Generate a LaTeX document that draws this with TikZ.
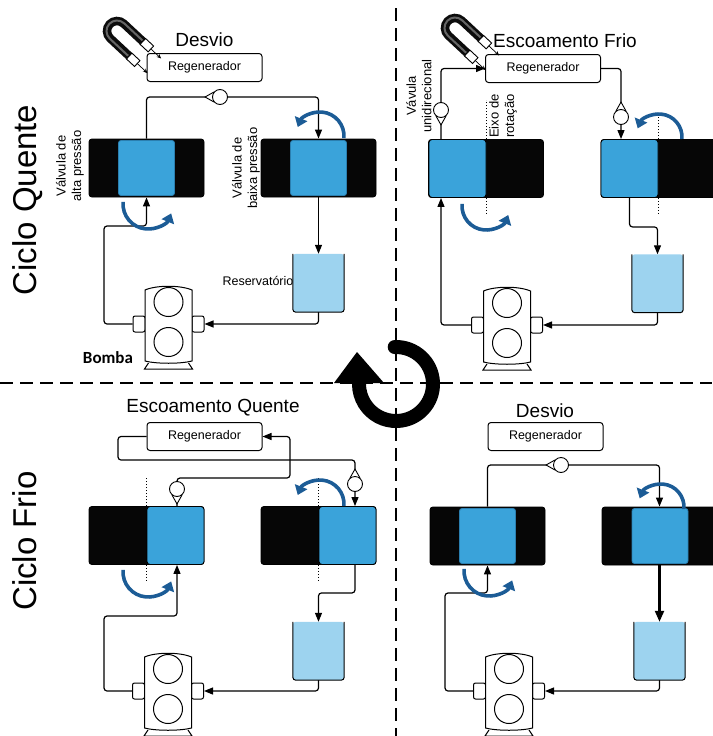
\documentclass[tikz,border=0pt]{standalone}
\usepackage{fontspec}
\setmainfont{Liberation Sans}
\newfontfamily\labelbold{Carlito}
\usetikzlibrary{arrows.meta}

\definecolor{rotorblue}{HTML}{3AA3DA}
\definecolor{rotoredge}{HTML}{2B7FB0}
\definecolor{tankblue}{HTML}{9DD3EF}
\definecolor{turnblue}{HTML}{1C5C96}
\definecolor{valveblack}{HTML}{060606}
\definecolor{magnetgrey}{HTML}{0C0C0C}

\pgfdeclarelayer{pipes}
\pgfsetlayers{pipes,main}

\tikzset{
  pipe/.style={line width=1.2pt, rounded corners=3pt},
  flow/.style={pipe, -{Triangle[length=9pt,width=7pt]}},
  thickflow/.style={line width=2.2pt, -{Triangle[length=11pt,width=9pt]}},
  turn/.style={line width=3.6pt, draw=turnblue, -{Triangle[length=9pt,width=13pt]}},
  regen/.style={draw, line width=1pt, rounded corners=3pt, minimum width=115pt,
    minimum height=28pt, inner sep=0pt, font=\fontsize{12.5}{14}\selectfont},
  valvebody/.style={draw, line width=0.9pt, fill=valveblack, rounded corners=3pt,
    minimum width=115pt, minimum height=58pt, inner sep=0pt},
  rotor/.style={draw=rotoredge, line width=0.8pt, fill=rotorblue, rounded corners=2.5pt,
    minimum width=56pt, minimum height=55pt, inner sep=0pt},
  halfrotor/.style={draw=black, line width=0.9pt, fill=rotorblue, rounded corners=3pt,
    minimum width=57pt, minimum height=58pt, inner sep=0pt},
  tankbox/.style={minimum width=51pt, minimum height=58pt, inner sep=0pt},
  port/.style={draw, line width=1pt, fill=white, rounded corners=2pt,
    minimum width=12pt, minimum height=16pt, inner sep=0pt},
  check/.style={circle, draw, fill=white, line width=0.9pt, minimum size=15pt, inner sep=0pt},
  quadtitle/.style={font=\fontsize{19}{22}\selectfont},
  side/.style={rotate=90, align=center, font=\fontsize{13}{15.5}\selectfont},
  cyclelabel/.style={rotate=90, anchor=base, font=\fontsize{33}{36}\selectfont},
  rotaxis/.style={dotted, line width=1pt},
  divider/.style={dash pattern=on 13pt off 7pt, line width=1.8pt},
}

% blue rotation arrow: centre x, centre y, radius, start angle, end angle
\newcommand{\turnarrow}[5]{%
  \draw[turn] ({#1+#3*cos(#4)},{#2+#3*sin(#4)}) arc[start angle=#4, end angle=#5, radius=#3];}

% open-top reservoir: name, centre x, centre y
\newcommand{\tank}[3]{%
  \node[tankbox] (#1) at (#2,#3) {};
  \fill[tankblue, rounded corners=3pt] (#1.north west) -- (#1.south west) -- (#1.south east) -- (#1.north east) -- cycle;
  \draw[line width=1pt, rounded corners=3pt] (#1.north west) -- (#1.south west) -- (#1.south east) -- (#1.north east);}

% pump: name, centre x, top y
\newcommand{\pump}[3]{%
  \begin{scope}[shift={(#2,#3)}]
    \node[port] (#1-l) at (-29.5,38) {};
    \node[port] (#1-r) at (29.5,38) {};
    \draw[line width=1pt, fill=white] (-23.5,75) -- (-23.5,4) .. controls (-12,-1) and (12,-1) .. (23.5,4)
      -- (23.5,75) .. controls (12,78) and (-12,78) .. (-23.5,75) -- cycle;
    \draw[line width=1pt] (0,16) circle[radius=14.5];
    \draw[line width=1pt] (0,56) circle[radius=14.5];
    \draw[line width=1pt] (-20,77) -- (-24,83) -- (24,83) -- (20,77);
  \end{scope}}

% check valve: name, x, y, rotation of the triangle
\newcommand{\checkvalve}[4]{%
  \begin{scope}[shift={(#2,#3)}, rotate=#4]
    \draw[fill=white, line width=0.9pt, line join=round] (-6,-5) -- (-15,0) -- (-6,5) -- cycle;
  \end{scope}
  \node[check] (#1) at (#2,#3) {};}

% horseshoe magnet: bend centre x, y
\newcommand{\magnet}[2]{%
  \begin{scope}[shift={(#1,#2)}, rotate=-43]
    \draw[line width=8.5pt, magnetgrey] (27,-10) -- (0,-10) arc[start angle=-90, end angle=-270, radius=10] -- (27,10);
    \draw[line width=2pt, black!60] (25,-10.5) -- (0,-10.5) arc[start angle=-90, end angle=-270, radius=10.5] -- (25,10.5);
    \draw[fill=white, line width=0.9pt] (26,-14) rectangle (37,-6);
    \draw[fill=white, line width=0.9pt] (26,6) rectangle (37,14);
    \draw[line width=0.7pt, -{Stealth[length=4.5pt,width=4pt]}] (37,-10) -- (51,-10);
    \draw[line width=0.7pt, -{Stealth[length=4.5pt,width=4pt]}] (37,10) -- (51,10);
  \end{scope}}

\begin{document}
\begin{tikzpicture}[x=1pt, y=-1pt]
\useasboundingbox (0,0) rectangle (712,736);

% quadrant dividers
\draw[divider] (0,383) -- (712,383);
\draw[divider] (396,8) -- (396,736);

% cycle arrow in the middle
\draw[line width=14pt, line cap=round] ({396+37*cos(-92)},{384+37*sin(-92)}) arc[start angle=-92, end angle=180, radius=37];
\fill (334,383) -- (357,352) -- (384,383) -- cycle;

\node[cyclelabel] (lblQuente) at (36,200) {Ciclo Quente};
\node[cyclelabel] (lblFrio) at (36,541) {Ciclo Frio};

% ===== hot cycle: bypass =====
\node[quadtitle] (tDesvioA) at (204.5,40) {Desvio};
\node[regen] (rgTL) at (204.5,67.5) {Regenerador};
\magnet{117}{31}
\node[valvebody] (vTLa) at (146.5,168) {};
\node[rotor] (vTLa-rot) at (146.5,168) {};
\node[valvebody] (vTLb) at (318.5,168) {};
\node[rotor] (vTLb-rot) at (318.5,168) {};
\node[side] (lblAlta) at (70,166) {Válvula de\\alta pressão};
\node[side] (lblBaixa) at (246,168) {Válvula de\\baixa pressão};
\node[anchor=base west, font=\fontsize{12.5}{14}\selectfont] (lblRes) at (219,285) {Reservatório};
\tank{rsTL}{318.5}{283}
\pump{pTL}{168.5}{286}
\node[anchor=base, font=\labelbold\bfseries\fontsize{17}{20}\selectfont] (lblBomba) at (108,363) {Bomba};
\checkvalve{cvTL}{220}{97}{0}
\turnarrow{148}{204}{25}{185}{22}
\turnarrow{320}{136}{24}{5}{-158}
\begin{pgfonlayer}{pipes}
  \draw[flow] (vTLa.north) |- (cvTL.center) -| (vTLb.north);
  \draw[flow] (pTL-l.west) -| (104,226) -| (vTLa.south);
  \draw[flow] (vTLb.south) -- (rsTL.north);
  \draw[flow] (rsTL.south) |- (pTL-r.east);
\end{pgfonlayer}

% ===== cold flow =====
\node[quadtitle] (tFrio) at (565,41) {Escoamento Frio};
\node[regen] (rgTR) at (543,68.5) {Regenerador};
\magnet{455}{28}
\node[valvebody] (vTRa) at (486,168.5) {};
\node[halfrotor] (vTRa-rot) at (457.5,168.5) {};
\node[valvebody] (vTRb) at (658.5,168.5) {};
\node[halfrotor] (vTRb-rot) at (629.5,168.5) {};
\node[side] (lblUni) at (419,96) {Vávula\\unidirecional};
\node[side] (lblEixo) at (503,116) {Eixo de\\rotação};
\tank{rsTR}{657.5}{283.5}
\pump{pTR}{507}{287}
\checkvalve{cvTRa}{441}{110}{90}
\checkvalve{cvTRb}{621}{117}{-90}
\draw[rotaxis] (vTRa-rot.north east) -- ++(0,-39);
\draw[rotaxis] (vTRa-rot.south east) -- ++(0,17);
\draw[rotaxis] (vTRb-rot.north east) -- ++(0,-27);
\draw[rotaxis] (vTRb-rot.south east) -- ++(0,17);
\turnarrow{486}{206}{24}{185}{22}
\turnarrow{659}{137}{23}{5}{-158}
\begin{pgfonlayer}{pipes}
  \draw[flow] (vTRa.north -| cvTRa) |- (rgTR.west);
  \draw[flow] (rgTR.east) -| (vTRb.north -| cvTRb);
  \draw[flow] (pTR-l.west) -| (vTRa.south -| cvTRa);
  \draw[flow] (vTRb-rot.south) -- ++(0,29) -| (rsTR.north);
  \draw[flow] (rsTR.south) |- (pTR-r.east);
\end{pgfonlayer}

% ===== hot flow =====
\node[quadtitle] (tQuente) at (213,408) {Escoamento Quente};
\node[regen] (rgBL) at (204.5,436.5) {Regenerador};
\node[valvebody] (vBLa) at (146.5,535.5) {};
\node[halfrotor] (vBLa-rot) at (175.5,535.5) {};
\node[valvebody] (vBLb) at (318.5,535.5) {};
\node[halfrotor] (vBLb-rot) at (347.5,535.5) {};
\tank{rsBL}{318.5}{651}
\pump{pBL}{168}{653}
\checkvalve{cvBLa}{177}{489}{90}
\checkvalve{cvBLb}{355}{484}{-90}
\draw[rotaxis] (vBLa-rot.north west) -- ++(0,-28);
\draw[rotaxis] (vBLa-rot.south west) -- ++(0,16);
\draw[rotaxis] (vBLb-rot.north west) -- ++(0,-28);
\draw[rotaxis] (vBLb-rot.south west) -- ++(0,16);
\turnarrow{148}{572}{25}{185}{22}
\turnarrow{320}{504}{24}{5}{-158}
\begin{pgfonlayer}{pipes}
  \draw[flow] (rgBL.west) -| (118,460) -| (vBLb.north -| cvBLb);
  \draw[flow] (vBLa.north -| cvBLa) |- (290,478) |- (rgBL.east);
  \draw[flow] (pBL-l.west) -| (104,616) -| (vBLa.south -| cvBLa);
  \draw[flow] (vBLb.south -| cvBLb) -- ++(0,28) -| (rsBL.north);
  \draw[flow] (rsBL.south) |- (pBL-r.east);
\end{pgfonlayer}

% ===== cold cycle: bypass =====
\node[quadtitle] (tDesvioB) at (545,411) {Desvio};
\node[regen] (rgBR) at (545.5,436.5) {Regenerador};
\node[valvebody] (vBRa) at (487.5,536) {};
\node[rotor] (vBRa-rot) at (487.5,536) {};
\node[valvebody] (vBRb) at (659.5,536) {};
\node[rotor] (vBRb-rot) at (660,536) {};
\tank{rsBR}{659.5}{651}
\pump{pBR}{509}{653}
\checkvalve{cvBR}{561}{465}{0}
\turnarrow{489}{571}{25}{185}{22}
\turnarrow{661}{507}{23}{5}{-158}
\begin{pgfonlayer}{pipes}
  \draw[flow] (vBRa.north) |- (cvBR.center) -| (vBRb.north);
  \draw[flow] (pBR-l.west) -| (445,593) -| (vBRa.south);
  \draw[thickflow] (vBRb.south) -- (rsBR.north);
  \draw[flow] (rsBR.south) |- (pBR-r.east);
\end{pgfonlayer}

\end{tikzpicture}
\end{document}
